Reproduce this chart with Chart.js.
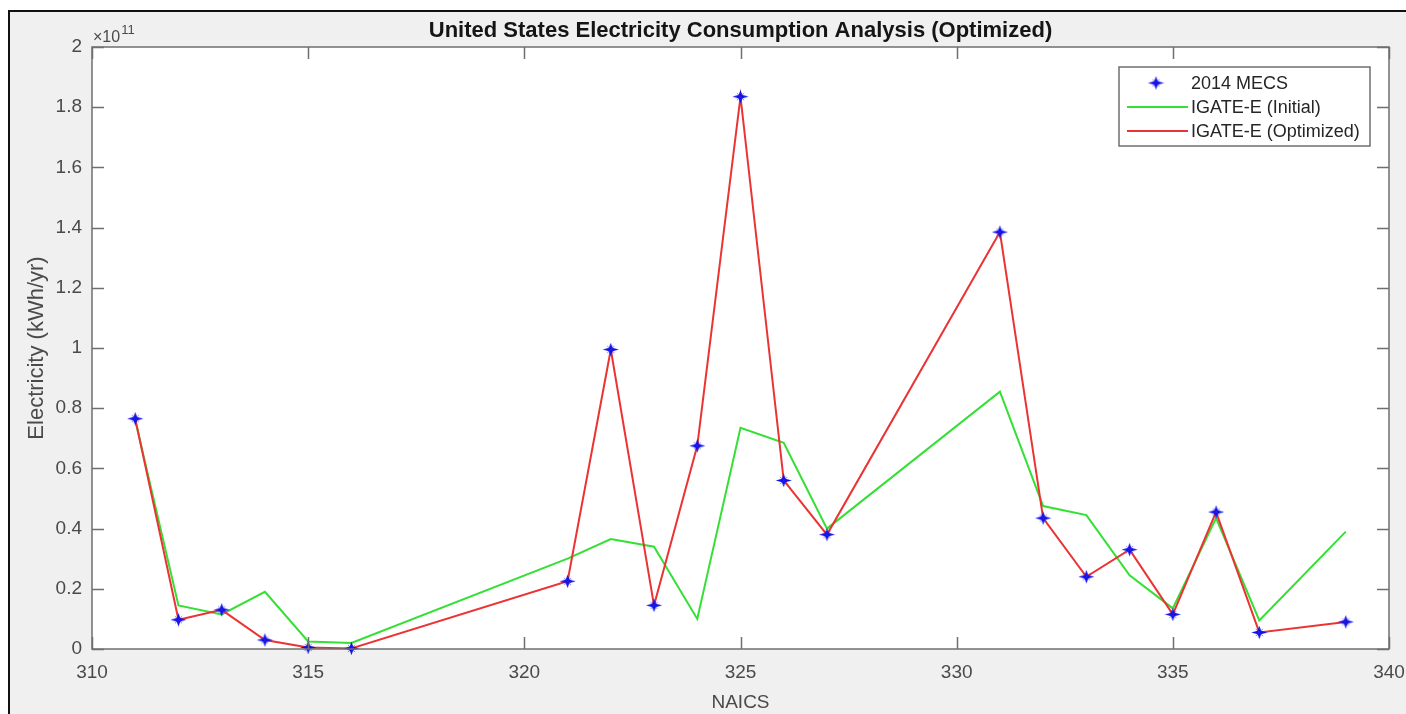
<!DOCTYPE html>
<html>
<head>
<meta charset="utf-8">
<title>United States Electricity Consumption Analysis (Optimized)</title>
<script src="https://cdn.jsdelivr.net/npm/chart.js@4.4.1/dist/chart.umd.min.js"></script>
<style>
  html, body { margin: 0; padding: 0; background: #fff; }
  #wrap { width: 1406px; height: 714px; position: relative; }
</style>
</head>
<body>
<div id="wrap"><canvas id="chart" width="1406" height="714"></canvas></div>
<script>
// NAICS codes (x positions)
const naics = [311, 312, 313, 314, 315, 316, 321, 322, 323, 324, 325, 326, 327, 331, 332, 333, 334, 335, 336, 337, 339];

// 2014 MECS reference values (kWh/yr)
const mecs = [7.65e10, 0.97e10, 1.30e10, 0.30e10, 0.05e10, 0.02e10, 2.25e10, 9.95e10, 1.45e10, 6.75e10, 18.35e10,
  5.60e10, 3.80e10, 13.85e10, 4.35e10, 2.40e10, 3.30e10, 1.15e10, 4.55e10, 0.55e10, 0.90e10];

// IGATE-E model, initial parameters
const initial = [7.60e10, 1.45e10, 1.15e10, 1.90e10, 0.25e10, 0.20e10, 3.00e10, 3.65e10, 3.40e10, 1.00e10, 7.35e10,
  6.85e10, 4.00e10, 8.55e10, 4.75e10, 4.45e10, 2.45e10, 1.35e10, 4.35e10, 0.95e10, 3.90e10];

// IGATE-E model, optimized parameters
const optimized = [7.65e10, 0.97e10, 1.30e10, 0.30e10, 0.05e10, 0.02e10, 2.25e10, 9.95e10, 1.45e10, 6.75e10, 18.35e10,
  5.60e10, 3.80e10, 13.85e10, 4.35e10, 2.40e10, 3.30e10, 1.15e10, 4.55e10, 0.55e10, 0.90e10];

const xTicks = [310, 315, 320, 325, 330, 335, 340];
const yTicks = [0, 0.2e11, 0.4e11, 0.6e11, 0.8e11, 1.0e11, 1.2e11, 1.4e11, 1.6e11, 1.8e11, 2.0e11];

const labels = {
  mecs: '2014 MECS',
  initial: 'IGATE-E (Initial)',
  optimized: 'IGATE-E (Optimized)'
};

const GREEN = '#33e033';
const RED = '#ec3333';
const BLUE = '#1010ee';
const TEXT = '#4a4a4a';
const FONT = '"Liberation Sans", Arial, sans-serif';

// blue star marker like matlab's '*'
function makeStar(size) {
  const c = document.createElement('canvas');
  c.width = size; c.height = size;
  const g = c.getContext('2d');
  const m = size / 2, r = size / 2 - 0.5, ri = size * 0.15;
  g.fillStyle = BLUE;
  g.beginPath();
  for (let i = 0; i < 8; i++) {
    const a = i * Math.PI / 4 - Math.PI / 2;
    const rr = i % 2 === 0 ? r : ri;
    const px = m + Math.cos(a) * rr;
    const py = m + Math.sin(a) * rr * (i % 4 === 0 ? 0.85 : 1);
    if (i === 0) g.moveTo(px, py); else g.lineTo(px, py);
  }
  g.closePath();
  g.fill();
  g.strokeStyle = 'rgba(60,40,200,0.6)';
  g.lineWidth = 1;
  g.beginPath();
  g.moveTo(m - r * 0.45, m - r * 0.45); g.lineTo(m + r * 0.45, m + r * 0.45);
  g.moveTo(m + r * 0.45, m - r * 0.45); g.lineTo(m - r * 0.45, m + r * 0.45);
  g.stroke();
  return c;
}
const star = makeStar(17);

function pts(ys) {
  return naics.map((x, i) => ({ x: x, y: ys[i] }));
}

// background, frame, box, inward ticks, title, exponent and legend
const matlabLook = {
  id: 'matlabLook',
  beforeDraw(chart) {
    const ctx = chart.ctx;
    const a = chart.chartArea;
    ctx.save();
    ctx.fillStyle = '#ffffff';
    ctx.fillRect(0, 0, chart.width, chart.height);
    ctx.fillStyle = '#f0f0f0';
    ctx.fillRect(9, 11, chart.width - 9, chart.height - 11);
    ctx.strokeStyle = '#111';
    ctx.lineWidth = 2;
    ctx.beginPath();
    ctx.moveTo(9, chart.height);
    ctx.lineTo(9, 11);
    ctx.lineTo(chart.width, 11);
    ctx.stroke();
    ctx.fillStyle = '#ffffff';
    ctx.fillRect(a.left, a.top, a.right - a.left, a.bottom - a.top);
    ctx.restore();
  },
  afterDraw(chart) {
    const ctx = chart.ctx;
    const a = chart.chartArea;
    const xs = chart.scales.x, ys = chart.scales.y;
    ctx.save();
    ctx.strokeStyle = '#6f6f6f';
    ctx.lineWidth = 1.5;
    ctx.strokeRect(a.left, a.top, a.right - a.left, a.bottom - a.top);

    const tl = 12;
    ctx.beginPath();
    xs.ticks.forEach(t => {
      const px = Math.round(xs.getPixelForValue(t.value)) + 0.5;
      ctx.moveTo(px, a.bottom); ctx.lineTo(px, a.bottom - tl);
      ctx.moveTo(px, a.top); ctx.lineTo(px, a.top + tl);
    });
    ys.ticks.forEach(t => {
      const py = Math.round(ys.getPixelForValue(t.value)) + 0.5;
      ctx.moveTo(a.left, py); ctx.lineTo(a.left + tl, py);
      ctx.moveTo(a.right, py); ctx.lineTo(a.right - tl, py);
    });
    ctx.stroke();

    // title
    ctx.fillStyle = '#151515';
    ctx.font = 'bold 22px ' + FONT;
    ctx.textAlign = 'center';
    ctx.textBaseline = 'middle';
    ctx.fillText('United States Electricity Consumption Analysis (Optimized)', (a.left + a.right) / 2, 31);

    // exponent
    ctx.fillStyle = TEXT;
    ctx.textAlign = 'left';
    ctx.textBaseline = 'alphabetic';
    ctx.font = '16px ' + FONT;
    ctx.fillText('\u00d710', a.left + 1, 42);
    const w = ctx.measureText('\u00d710').width;
    ctx.font = '13px ' + FONT;
    ctx.fillText('11', a.left + 2 + w, 34);

    // legend
    const lx = 1119, ly = 67, lw = 251, lh = 79;
    ctx.fillStyle = '#ffffff';
    ctx.fillRect(lx, ly, lw, lh);
    ctx.strokeStyle = '#6f6f6f';
    ctx.lineWidth = 1.5;
    ctx.strokeRect(lx, ly, lw, lh);
    const rows = [
      { y: 83, kind: 'marker', text: labels.mecs },
      { y: 107, kind: 'line', color: GREEN, text: labels.initial },
      { y: 131, kind: 'line', color: RED, text: labels.optimized }
    ];
    ctx.font = '18px ' + FONT;
    ctx.textBaseline = 'middle';
    rows.forEach(r => {
      if (r.kind === 'marker') {
        ctx.drawImage(star, 1156 - 8.5, r.y - 8.5);
      } else {
        ctx.strokeStyle = r.color;
        ctx.lineWidth = 2;
        ctx.beginPath();
        ctx.moveTo(1127, r.y); ctx.lineTo(1188, r.y);
        ctx.stroke();
      }
      ctx.fillStyle = '#262626';
      ctx.fillText(r.text, 1191, r.y + 1);
    });
    ctx.restore();
  }
};

const ctx = document.getElementById('chart').getContext('2d');
new Chart(ctx, {
  type: 'line',
  data: {
    datasets: [
      {
        label: labels.mecs,
        data: pts(mecs),
        showLine: false,
        pointStyle: star,
        pointRadius: 8,
        clip: false
      },
      {
        label: labels.optimized,
        data: pts(optimized),
        borderColor: RED,
        borderWidth: 2,
        pointRadius: 0,
        tension: 0,
        fill: false
      },
      {
        label: labels.initial,
        data: pts(initial),
        borderColor: GREEN,
        borderWidth: 2,
        pointRadius: 0,
        tension: 0,
        fill: false
      }
    ]
  },
  options: {
    responsive: false,
    animation: false,
    events: [],
    layout: { padding: { top: 47, right: 17, left: 0, bottom: 0 } },
    plugins: {
      legend: { display: false },
      title: { display: false },
      tooltip: { enabled: false }
    },
    scales: {
      x: {
        type: 'linear',
        min: 310,
        max: 340,
        afterBuildTicks: s => { s.ticks = xTicks.map(v => ({ value: v })); },
        afterFit: s => { s.height = 65; s.paddingLeft = 0; s.paddingRight = 0; },
        grid: { display: false, drawTicks: false },
        border: { display: false },
        ticks: {
          padding: 12,
          color: TEXT,
          font: { family: FONT, size: 19 },
          maxRotation: 0,
          callback: v => String(v)
        },
        title: {
          display: true,
          text: 'NAICS',
          color: TEXT,
          font: { family: FONT, size: 19 },
          padding: { top: 0, bottom: 0 }
        }
      },
      y: {
        type: 'linear',
        min: 0,
        max: 2e11,
        afterBuildTicks: s => { s.ticks = yTicks.map(v => ({ value: v })); },
        afterFit: s => { s.width = 92; s.paddingTop = 0; s.paddingBottom = 0; },
        grid: { display: false, drawTicks: false },
        border: { display: false },
        ticks: {
          padding: 10,
          color: TEXT,
          font: { family: FONT, size: 19 },
          callback: v => String(Number((v / 1e11).toFixed(1)))
        },
        title: {
          display: true,
          text: 'Electricity (kWh/yr)',
          color: TEXT,
          font: { family: FONT, size: 22 },
          padding: { top: 24, bottom: 0 }
        }
      }
    }
  },
  plugins: [matlabLook]
});
</script>
</body>
</html>
